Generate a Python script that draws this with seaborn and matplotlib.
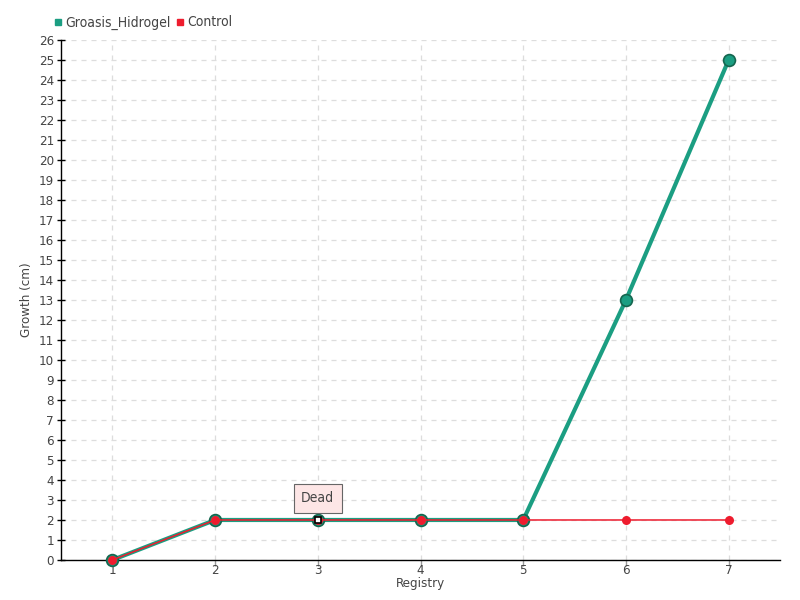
import pandas as pd
import numpy as np
import seaborn as sns
import matplotlib.pyplot as plt
from matplotlib.lines import Line2D

# -----------------------------
# DATA
# -----------------------------
registry = [1, 2, 3, 4, 5, 6, 7]
groasis = [0, 2, 2, 2, 2, 13, 25]
control = [0, 2, 2, 2, 2, 2, 2]
series_names = ['Groasis_Hidrogel', 'Control']
dead_registry = 3
dead_value = 2
dead_label = 'Dead'
y_ticks = list(range(0, 27))

df = pd.DataFrame({
    'Registry': registry * 2,
    'Growth': groasis + control,
    'Series': [series_names[0]] * len(registry) + [series_names[1]] * len(registry),
})

teal = '#1b9e82'
teal_dark = '#14664f'
red = '#ee1c2e'
text_col = '#444444'

sns.set_theme(style='white')
plt.rcParams['font.family'] = ['DejaVu Sans']
plt.rcParams['font.stretch'] = 'condensed'

fig = plt.figure(figsize=(8, 6), dpi=100)
ax = fig.add_axes([0.07625, 0.0667, 0.89875, 0.8666])

# -----------------------------
# LINES
# -----------------------------
sns.lineplot(data=df[df['Series'] == series_names[0]], x='Registry', y='Growth',
             color=teal, linewidth=3, marker='o', markersize=8.5,
             markerfacecolor=teal, markeredgecolor=teal_dark, markeredgewidth=1.2,
             ax=ax, legend=False, zorder=3, clip_on=False)
sns.lineplot(data=df[df['Series'] == series_names[1]], x='Registry', y='Growth',
             color=red, linewidth=1.1, marker='o', markersize=6.5,
             markerfacecolor=red, markeredgecolor=red, markeredgewidth=0,
             ax=ax, legend=False, zorder=4, clip_on=False)

# dead marker
ax.plot([dead_registry], [dead_value], marker='s', markersize=4.5,
        markerfacecolor='white', markeredgecolor='black', markeredgewidth=1.2,
        linestyle='none', zorder=6)
ax.annotate(dead_label, xy=(dead_registry, dead_value), xytext=(0, 15.5),
            textcoords='offset points', ha='center', va='center',
            fontsize=10, color=text_col,
            bbox=dict(boxstyle='square,pad=0.55', fc='#fde6e6', ec='#666666', lw=0.8),
            zorder=7)

# -----------------------------
# AXES
# -----------------------------
ax.set_xlim(0.5, 7.5)
ax.set_ylim(0, 26)
ax.set_xticks(registry)
ax.set_yticks(y_ticks)
ax.grid(True, linestyle=(0, (4, 4)), color='#dddddd', linewidth=0.9)
ax.set_axisbelow(True)
for s in ['top', 'right']:
    ax.spines[s].set_visible(False)
for s in ['left', 'bottom']:
    ax.spines[s].set_color('black')
    ax.spines[s].set_linewidth(1.0)
ax.tick_params(axis='y', direction='inout', length=6, width=1, colors='black',
               labelcolor=text_col, labelsize=9.5, pad=2, left=True)
ax.tick_params(axis='x', direction='out', length=4, width=1, colors='#999999',
               labelcolor=text_col, labelsize=9.5, pad=-1, bottom=True)
ax.set_xlabel('Registry', fontsize=9.5, color=text_col, labelpad=0)
ax.set_ylabel('Growth (cm)', fontsize=9.5, color=text_col, labelpad=4)

handles = [Line2D([], [], marker='s', color='none', markerfacecolor=teal,
                  markeredgecolor=teal, markersize=4.5),
           Line2D([], [], marker='s', color='none', markerfacecolor=red,
                  markeredgecolor=red, markersize=4.5)]
fig.legend(handles, series_names, loc='upper left', bbox_to_anchor=(0.052, 0.995),
           ncol=2, frameon=False, fontsize=10, handlelength=0.6,
           handletextpad=0.2, columnspacing=0.4, labelcolor=text_col)

fig.savefig('out.png', dpi=100)
